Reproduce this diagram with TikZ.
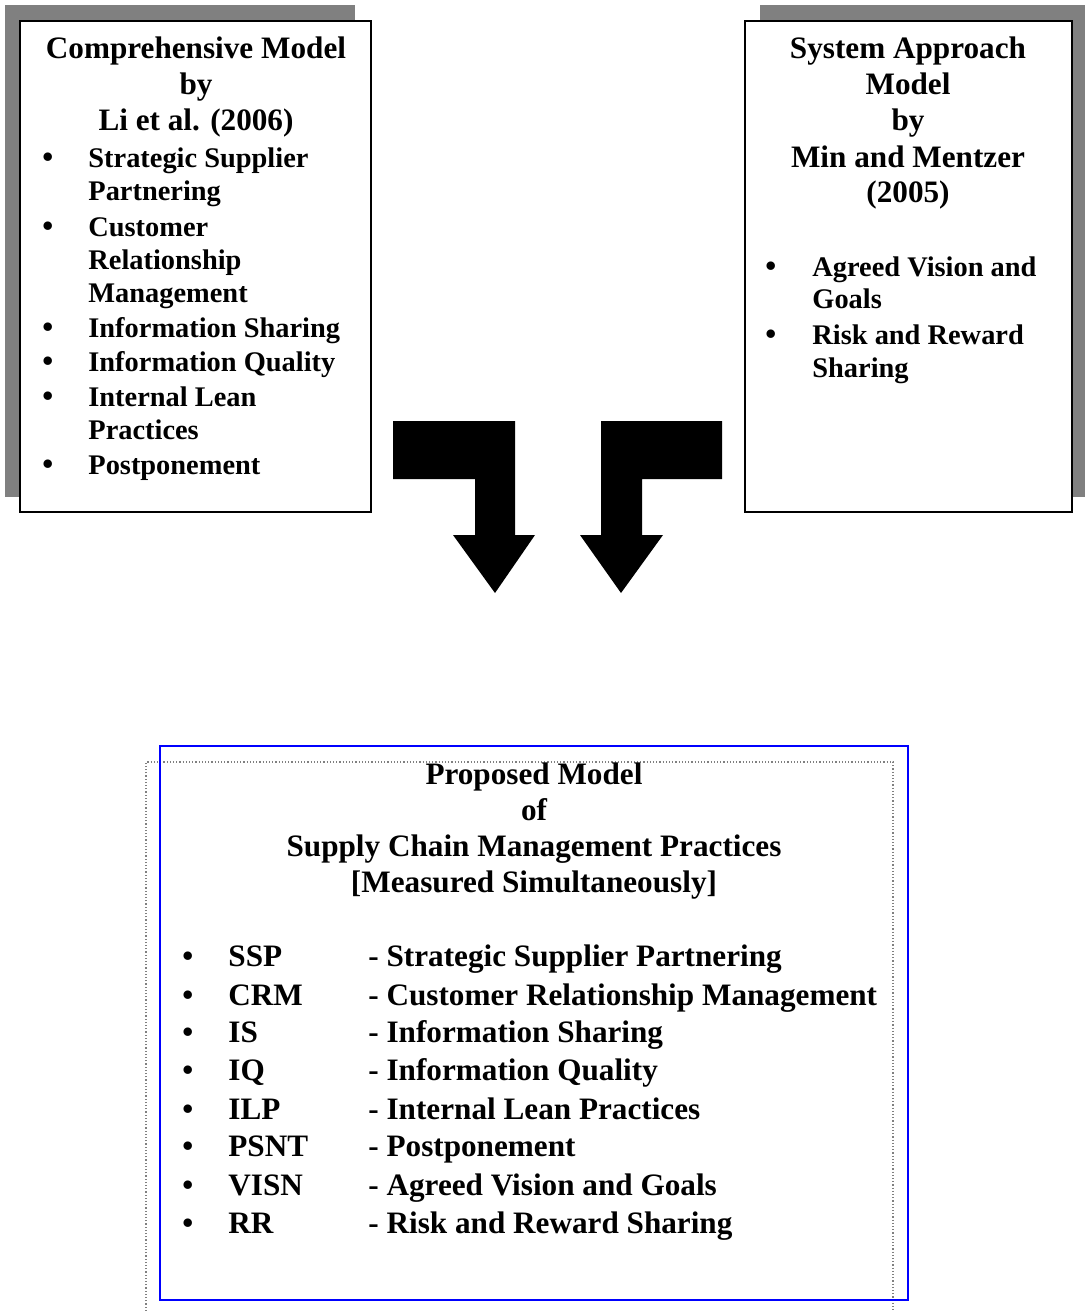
\documentclass[tikz,border=0pt]{standalone}
\usepackage{fontspec}
\setmainfont{Liberation Serif}
\tikzset{
  txt/.style={inner sep=0pt,anchor=base,font=\fontsize{15.6}{18}\selectfont\bfseries},
  ltxt/.style={txt,anchor=base west},
  stxt/.style={ltxt,font=\fontsize{14.2}{17}\selectfont\bfseries},
  shade/.style={fill=black!50,draw=none},
  frame/.style={draw=black,line width=1pt,fill=white},
  bigarrow/.style={fill=black,draw=none}
}
\begin{document}
\begin{tikzpicture}[x=0.5pt,y=-0.5pt]
\useasboundingbox (0,0) rectangle (1085,1311);
% left box
\fill[shade](5,5)rectangle(355,497);
\draw[frame](20,21)rectangle(371,512);
\foreach \y/\t [count=\i] in {59/Comprehensive Model,95/by,131/Li et al. (2006)}
  \node[txt](lt\i) at (196,\y){\t};
\foreach \y/\b/\t [count=\i] in {168/1/Strategic Supplier,200/0/Partnering,236/1/Customer,269/0/Relationship,302/0/Management,
  337/1/Information Sharing,371/1/Information Quality,406/1/Internal Lean,439/0/Practices,474/1/Postponement}{
  \node[stxt](li\i) at (88,\y){\t};
  \ifnum\b=1 \node[ltxt](lb\i) at (42,\y){\textbullet};\fi
}
% right box
\fill[shade](760,5)rectangle(1085,497);
\draw[frame](745,21)rectangle(1072,512);
\foreach \y/\t [count=\i] in {59/System Approach,95/Model,131/by,167/Min and Mentzer,202/(2005)}
  \node[txt](rt\i) at (908,\y){\t};
\foreach \y/\b/\t [count=\i] in {276/1/Agreed Vision and,308/0/Goals,344/1/Risk and Reward,377/0/Sharing}{
  \node[stxt](ri\i) at (812,\y){\t};
  \ifnum\b=1 \node[ltxt](rb\i) at (765,\y){\textbullet};\fi
}
% arrows
\fill[bigarrow](393,421)--++(122,0)--++(0,114)--++(20,0)--(495,593)--(453,535)--++(22,0)--++(0,-56)--++(-82,0)--cycle;
\fill[bigarrow](722,421)--++(-121,0)--++(0,114)--++(-21,0)--(621,593)--(663,535)--++(-21,0)--++(0,-56)--++(80,0)--cycle;
% proposed model
\draw[gray,densely dotted,line width=0.6pt](146,1311)--(146,762)--(893,762)--(893,1311);
\draw[blue,line width=1pt](160,746)rectangle(908,1300);
\foreach \y/\t [count=\i] in {784/Proposed Model,820/of,856/Supply Chain Management Practices,892/[Measured Simultaneously]}
  \node[txt](pt\i) at (534,\y){\t};
\foreach \y/\a/\t [count=\i] in {966/SSP/Strategic Supplier Partnering,1005/CRM/Customer Relationship Management,
  1042/IS/Information Sharing,1080/IQ/Information Quality,1119/ILP/Internal Lean Practices,
  1156/PSNT/Postponement,1195/VISN/Agreed Vision and Goals,1233/RR/Risk and Reward Sharing}{
  \node[ltxt](pb\i) at (182,\y){\textbullet};
  \node[ltxt](pa\i) at (228,\y){\a};
  \node[ltxt](pd\i) at (368,\y){- \t};
}
\end{tikzpicture}
\end{document}
